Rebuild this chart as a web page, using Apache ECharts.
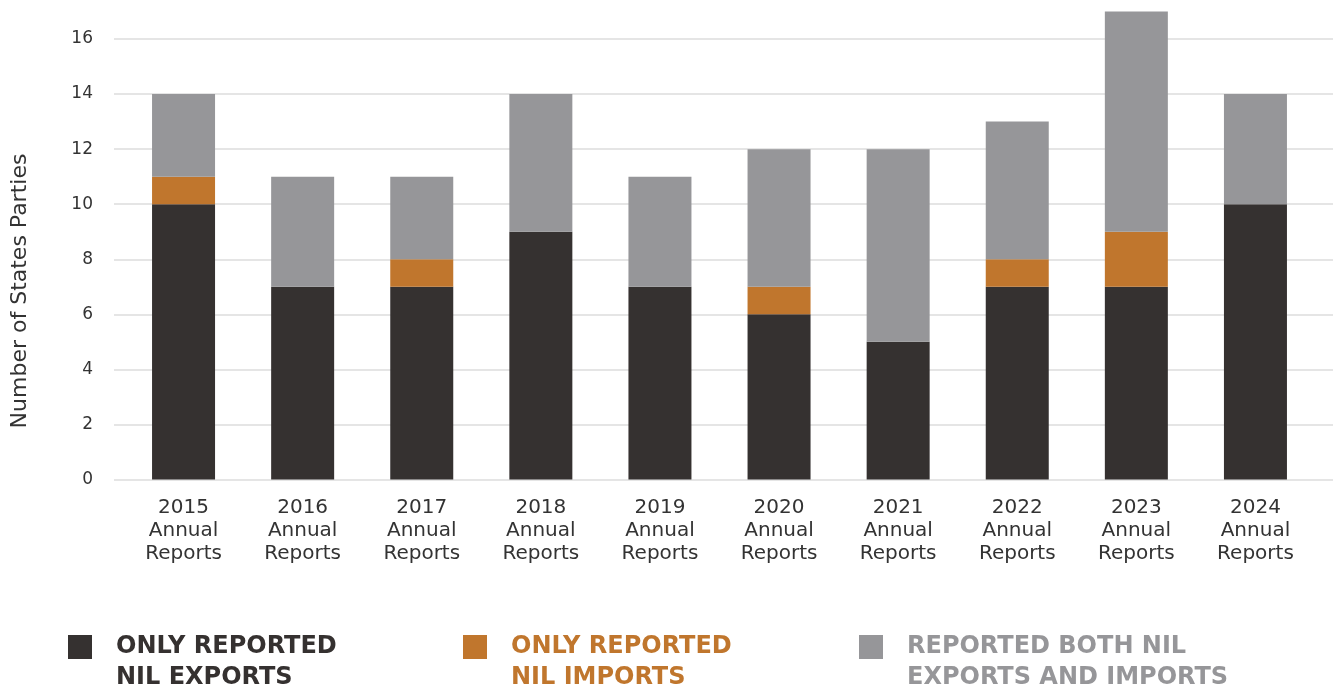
<!DOCTYPE html>
<html>
<head>
<meta charset="utf-8">
<script src="https://cdn.jsdelivr.net/npm/echarts@6/dist/echarts.min.js"></script>
<style>
  html, body { margin: 0; padding: 0; background: #fff; }
  #chart { width: 1333px; height: 690px; }
</style>
</head>
<body>
<div id="chart"></div>
<script>
// years shown on the x axis
const years = ['2015', '2016', '2017', '2018', '2019', '2020', '2021', '2022', '2023', '2024']
const categories = years.map(y => y + '\nAnnual\nReports')

// number of States Parties per report year
const onlyExports = [10, 7, 7, 9, 7, 6, 5, 7, 7, 10]
const onlyImports = [1, 0, 1, 0, 0, 1, 0, 1, 2, 0]
const bothReported = [3, 4, 3, 5, 4, 5, 7, 5, 8, 4]

const yTicks = { min: 0, max: 16, interval: 2 }

const seriesNames = ['ONLY REPORTED\nNIL EXPORTS', 'ONLY REPORTED\nNIL IMPORTS', 'REPORTED BOTH NIL\nEXPORTS AND IMPORTS']
const colors = ['#353130', '#c0762d', '#969699']

const font = '"DejaVu Sans", "Noto Sans", sans-serif'

function makeLegend (i, left) {
  return {
    show: true,
    data: [seriesNames[i]],
    left: left,
    top: 600.5,
    padding: 0,
    icon: 'rect',
    itemWidth: 24,
    itemHeight: 24,
    itemGap: 0,
    selectedMode: false,
    // leading empty line so the first text line sits level with the square
    formatter: name => '\n' + name,
    textStyle: {
      color: colors[i],
      fontFamily: font,
      fontWeight: 'bold',
      fontSize: 24,
      lineHeight: 31,
      padding: [0, 0, 0, 19]
    }
  }
}

const chart = echarts.init(document.getElementById('chart'))

const option = {
  animation: false,
  legend: [makeLegend(0, 68), makeLegend(1, 463), makeLegend(2, 859)],
  grid: [
    { left: 114, right: 0, top: 39, bottom: 210.5 },
    { left: 124, right: 18, top: 11.5, bottom: 210.5 }
  ],
  xAxis: [
    { type: 'category', gridIndex: 0, data: categories, show: false },
    {
      type: 'category',
      gridIndex: 1,
      data: categories,
      axisLine: { show: false },
      axisTick: { show: false },
      axisLabel: {
        margin: 17,
        color: '#333',
        fontFamily: font,
        fontSize: 20,
        lineHeight: 23,
        interval: 0
      }
    }
  ],
  yAxis: [
    {
      type: 'value',
      gridIndex: 0,
      min: yTicks.min,
      max: yTicks.max,
      interval: yTicks.interval,
      axisLine: { show: false },
      axisTick: { show: false },
      axisLabel: {
        margin: 21,
        color: '#333',
        fontFamily: font,
        fontSize: 17,
        fontWeight: 500
      },
      splitLine: { lineStyle: { color: '#dcdcdc', width: 1.5 } }
    },
    {
      type: 'value',
      gridIndex: 1,
      min: 0,
      max: 17,
      show: false,
      splitLine: { show: false }
    }
  ],
  graphic: [
    {
      type: 'text',
      x: 20,
      y: 291,
      rotation: Math.PI / 2,
      style: {
        text: 'Number of States Parties',
        fill: '#333',
        font: '22px ' + font,
        align: 'center',
        verticalAlign: 'middle'
      }
    }
  ],
  series: [onlyExports, onlyImports, bothReported].map((d, i) => ({
    name: seriesNames[i],
    type: 'bar',
    stack: 'total',
    xAxisIndex: 1,
    yAxisIndex: 1,
    barWidth: 63,
    itemStyle: { color: colors[i] },
    data: d
  }))
}

chart.setOption(option)
</script>
</body>
</html>
